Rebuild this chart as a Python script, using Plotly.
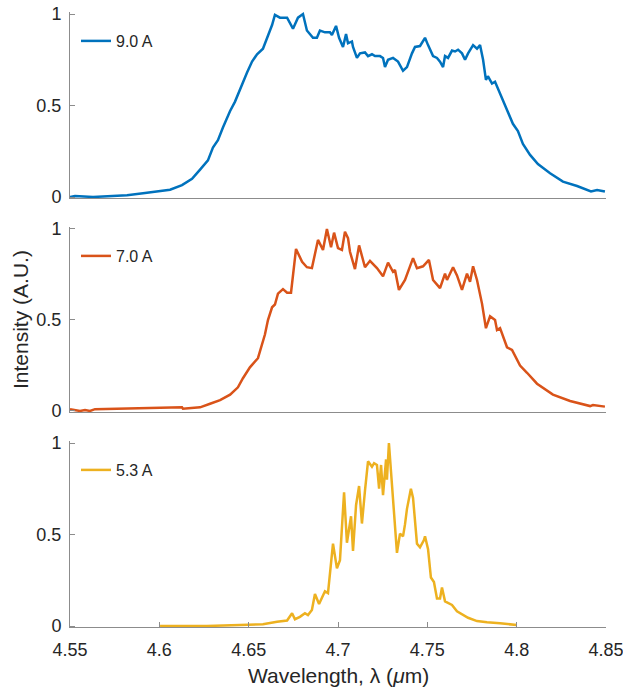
import plotly.graph_objects as go

# Emission spectra at three drive currents (normalised intensity)
wl_9A = [4.5500, 4.5528, 4.5629, 4.5819, 4.5909, 4.6004, 4.6060, 4.6127, 4.6183, 4.6228,
         4.6272, 4.6300, 4.6328, 4.6356, 4.6396, 4.6423, 4.6451, 4.6491, 4.6519, 4.6547,
         4.6580, 4.6608, 4.6631, 4.6647, 4.6675, 4.6715, 4.6748, 4.6776, 4.6804, 4.6826,
         4.6860, 4.6882, 4.6899, 4.6927, 4.6955, 4.6966, 4.6989, 4.7006, 4.7028, 4.7045,
         4.7056, 4.7078, 4.7084, 4.7106, 4.7123, 4.7151, 4.7168, 4.7190, 4.7207, 4.7235,
         4.7252, 4.7263, 4.7280, 4.7308, 4.7336, 4.7364, 4.7386, 4.7414, 4.7431, 4.7459,
         4.7487, 4.7504, 4.7532, 4.7554, 4.7571, 4.7588, 4.7599, 4.7616, 4.7638, 4.7655,
         4.7672, 4.7694, 4.7711, 4.7728, 4.7756, 4.7778, 4.7795, 4.7812, 4.7828, 4.7839,
         4.7862, 4.7879, 4.7896, 4.7923, 4.7951, 4.7979, 4.8007, 4.8035, 4.8075, 4.8119,
         4.8187, 4.8259, 4.8338, 4.8399, 4.8416, 4.8450, 4.8494]
int_9A = [0.000, 0.005, 0.000, 0.010, 0.020, 0.030, 0.040, 0.065, 0.100, 0.150,
          0.200, 0.270, 0.310, 0.380, 0.470, 0.520, 0.590, 0.680, 0.740, 0.780,
          0.810, 0.880, 0.940, 0.995, 0.980, 0.980, 0.920, 0.980, 1.000, 0.910,
          0.870, 0.870, 0.910, 0.900, 0.900, 0.885, 0.935, 0.870, 0.820, 0.890,
          0.840, 0.850, 0.820, 0.760, 0.785, 0.790, 0.770, 0.780, 0.770, 0.770,
          0.760, 0.710, 0.750, 0.760, 0.740, 0.690, 0.710, 0.785, 0.820, 0.825,
          0.870, 0.830, 0.770, 0.760, 0.740, 0.710, 0.770, 0.760, 0.800, 0.795,
          0.805, 0.785, 0.750, 0.785, 0.830, 0.810, 0.830, 0.750, 0.640, 0.660,
          0.620, 0.630, 0.590, 0.530, 0.460, 0.400, 0.360, 0.290, 0.230, 0.180,
          0.130, 0.084, 0.060, 0.038, 0.030, 0.038, 0.030]

wl_7A = [4.5500, 4.5528, 4.5556, 4.5584, 4.5612, 4.5640, 4.5763, 4.5948, 4.6127, 4.6132,
         4.6228, 4.6284, 4.6340, 4.6396, 4.6440, 4.6468, 4.6507, 4.6552, 4.6575, 4.6591,
         4.6608, 4.6631, 4.6647, 4.6664, 4.6692, 4.6715, 4.6737, 4.6765, 4.6799, 4.6826,
         4.6854, 4.6888, 4.6916, 4.6938, 4.6961, 4.6978, 4.7000, 4.7022, 4.7039, 4.7056,
         4.7067, 4.7095, 4.7118, 4.7151, 4.7179, 4.7218, 4.7252, 4.7280, 4.7308, 4.7319,
         4.7341, 4.7375, 4.7420, 4.7442, 4.7476, 4.7509, 4.7532, 4.7571, 4.7599, 4.7610,
         4.7644, 4.7666, 4.7694, 4.7722, 4.7739, 4.7756, 4.7778, 4.7806, 4.7828, 4.7851,
         4.7879, 4.7890, 4.7907, 4.7946, 4.7974, 4.8019, 4.8058, 4.8114, 4.8203, 4.8299,
         4.8411, 4.8427, 4.8494]
int_7A = [0.010, 0.005, 0.000, 0.005, 0.000, 0.010, 0.013, 0.015, 0.020, 0.013,
          0.020, 0.040, 0.060, 0.090, 0.130, 0.180, 0.240, 0.290, 0.370, 0.420,
          0.500, 0.570, 0.585, 0.645, 0.670, 0.650, 0.650, 0.890, 0.820, 0.790,
          0.785, 0.940, 0.885, 1.000, 0.900, 0.980, 0.895, 0.885, 0.985, 0.950,
          0.875, 0.780, 0.910, 0.790, 0.825, 0.785, 0.740, 0.815, 0.765, 0.775,
          0.665, 0.720, 0.840, 0.785, 0.795, 0.830, 0.720, 0.675, 0.755, 0.720,
          0.790, 0.745, 0.665, 0.755, 0.710, 0.795, 0.720, 0.590, 0.455, 0.520,
          0.500, 0.445, 0.455, 0.350, 0.335, 0.250, 0.210, 0.150, 0.090, 0.055,
          0.027, 0.033, 0.024]

wl_53A = [4.6004, 4.6267, 4.6496, 4.6580, 4.6659, 4.6715, 4.6743, 4.6759, 4.6787, 4.6815,
          4.6832, 4.6854, 4.6871, 4.6894, 4.6927, 4.6944, 4.6972, 4.6994, 4.7011, 4.7034,
          4.7050, 4.7073, 4.7084, 4.7101, 4.7118, 4.7134, 4.7151, 4.7168, 4.7190, 4.7202,
          4.7218, 4.7230, 4.7241, 4.7252, 4.7269, 4.7274, 4.7285, 4.7302, 4.7330, 4.7347,
          4.7364, 4.7375, 4.7386, 4.7408, 4.7420, 4.7442, 4.7459, 4.7481, 4.7487, 4.7504,
          4.7520, 4.7537, 4.7554, 4.7571, 4.7582, 4.7599, 4.7638, 4.7666, 4.7700, 4.7728,
          4.7778, 4.7834, 4.7907, 4.8001]
int_53A = [0.000, 0.000, 0.007, 0.010, 0.023, 0.030, 0.070, 0.037, 0.050, 0.070,
           0.060, 0.087, 0.175, 0.120, 0.190, 0.180, 0.450, 0.315, 0.360, 0.730,
           0.455, 0.600, 0.410, 0.660, 0.765, 0.560, 0.740, 0.900, 0.870, 0.890,
           0.880, 0.750, 0.880, 0.715, 0.910, 0.800, 1.000, 0.780, 0.400, 0.505,
           0.490, 0.555, 0.640, 0.750, 0.700, 0.450, 0.430, 0.470, 0.490, 0.420,
           0.265, 0.240, 0.150, 0.150, 0.210, 0.135, 0.115, 0.080, 0.060, 0.045,
           0.027, 0.020, 0.015, 0.005]

series = [("9.0 A", wl_9A, int_9A, "#0072BD"),
          ("7.0 A", wl_7A, int_7A, "#D95319"),
          ("5.3 A", wl_53A, int_53A, "#EDB120")]

x_ticks = [4.55, 4.6, 4.65, 4.7, 4.75, 4.8, 4.85]
x_ticktext = ["4.55", "4.6", "4.65", "4.7", "4.75", "4.8", "4.85"]
y_ticks = [0, 0.5, 1]
y_ticktext = ["0", "0.5", "1"]

W, H = 623, 689
FONT = "Arial, Liberation Sans, Helvetica, sans-serif"
AXIS_COLOR = "#8c8c8c"
TEXT_COLOR = "#262626"

# pixel layout of the three stacked panels: (row of y=1, row of y=0)
x_left, x_right = 70, 606
panel_rows = [(14, 197), (229, 411), (443, 626)]
y_lo, y_hi = -0.008, 1.012

fig = go.Figure()

for i, (name, wl, inten, color) in enumerate(series):
    n = i + 1
    suffix = "" if n == 1 else str(n)
    fig.add_trace(go.Scatter(
        x=wl, y=inten, mode="lines", name=name,
        line=dict(color=color, width=2.5),
        xaxis="x" + suffix, yaxis="y" + suffix,
        legend="legend" + suffix,
    ))

    top_px, bot_px = panel_rows[i]
    span = bot_px - top_px
    px_bottom = bot_px - y_lo * span
    px_top = top_px - (y_hi - 1) * span
    ydom = [1 - px_bottom / H, 1 - px_top / H]
    last = (n == 3)

    fig.update_layout({
        "xaxis" + suffix: dict(
            domain=[x_left / W, x_right / W], range=[4.55, 4.85],
            anchor="y" + suffix, automargin=False,
            showline=True, linecolor=AXIS_COLOR, linewidth=1,
            showgrid=False, zeroline=False,
            tickmode="array", tickvals=x_ticks, ticktext=x_ticktext,
            showticklabels=last, ticklabeloverflow="allow",
            ticks="inside" if last else "", ticklen=5, tickcolor=AXIS_COLOR,
            tickfont=dict(family=FONT, size=18, color=TEXT_COLOR),
            ticklabelstandoff=6,
        ),
        "yaxis" + suffix: dict(
            domain=ydom, range=[y_lo, y_hi], anchor="x" + suffix,
            automargin=False,
            showline=True, linecolor=AXIS_COLOR, linewidth=1,
            showgrid=False, zeroline=False,
            tickmode="array", tickvals=y_ticks, ticktext=y_ticktext,
            ticklabeloverflow="allow",
            ticks="inside", ticklen=5, tickcolor=AXIS_COLOR,
            tickfont=dict(family=FONT, size=18, color=TEXT_COLOR),
            ticklabelstandoff=4,
        ),
        "legend" + suffix: dict(
            x=76 / W, y=1 - (top_px + 27) / H, xanchor="left", yanchor="middle",
            bgcolor="rgba(0,0,0,0)", borderwidth=0,
            font=dict(family=FONT, size=16, color=TEXT_COLOR),
            itemwidth=30,
        ),
    })

fig.add_annotation(
    text="Intensity (A.U.)", textangle=-90,
    x=20 / W, y=1 - 320 / H, xref="paper", yref="paper",
    showarrow=False, xanchor="center", yanchor="middle",
    font=dict(family=FONT, size=21, color=TEXT_COLOR),
)
fig.add_annotation(
    text="Wavelength, λ (<i>μ</i>m)",
    x=(x_left + x_right) / 2 / W, y=1 - 675 / H, xref="paper", yref="paper",
    showarrow=False, xanchor="center", yanchor="middle",
    font=dict(family=FONT, size=21, color=TEXT_COLOR),
)

fig.update_layout(
    width=W, height=H,
    margin=dict(l=0, r=0, t=0, b=0, autoexpand=False),
    paper_bgcolor="white", plot_bgcolor="white",
    showlegend=True,
)

fig.write_html("out.html")
